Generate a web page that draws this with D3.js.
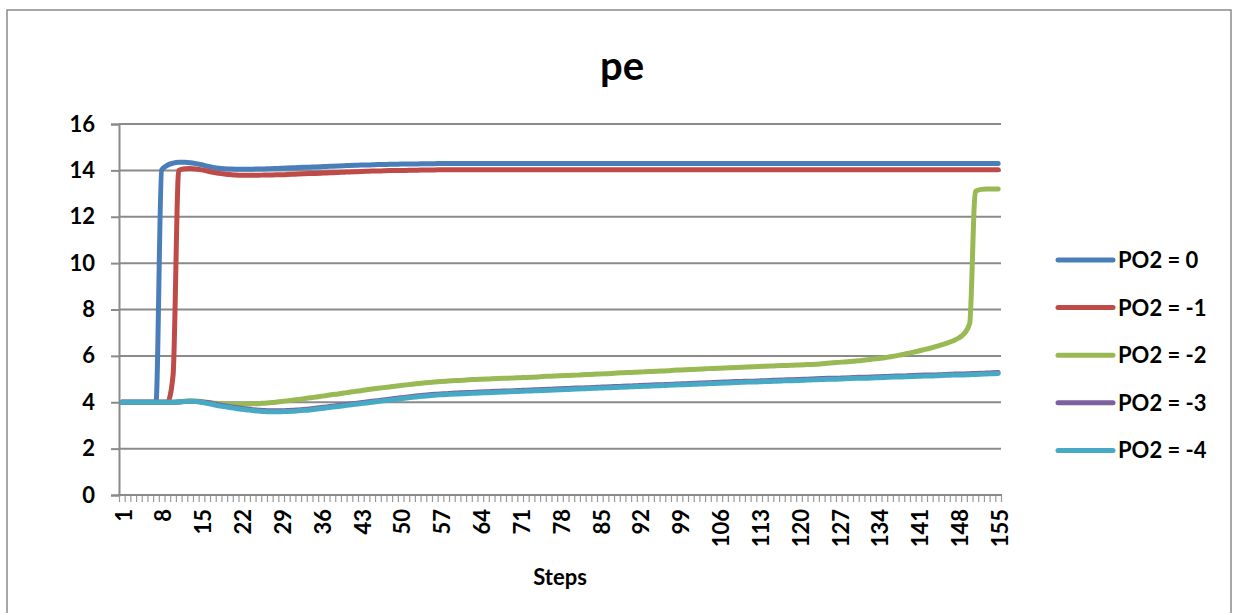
<!DOCTYPE html>
<html>
<head>
<meta charset="utf-8">
<script src="https://cdn.jsdelivr.net/npm/d3@7"></script>
<style>
  html, body { margin: 0; padding: 0; background: #ffffff; }
  svg { display: block; font-family: Lato, "Open Sans", "DejaVu Sans", sans-serif; font-weight: 700; }
</style>
</head>
<body>
<svg id="chart" width="1234" height="613"></svg>
<script>
// ---- data -------------------------------------------------------------
const steps = d3.range(1, 156);                 // categories 1..155
const stepLabels = [1, 8, 15, 22, 29, 36, 43, 50, 57, 64, 71, 78, 85, 92, 99,
                    106, 113, 120, 127, 134, 141, 148, 155];
const yTicks = [0, 2, 4, 6, 8, 10, 12, 14, 16];
const seriesNames = ["PO2 = 0", "PO2 = -1", "PO2 = -2", "PO2 = -3", "PO2 = -4"];
const seriesColors = ["#4a7ebb", "#be4b48", "#98b954", "#7d60a0", "#46aac5"];

const pePO2_0 = [
  4.00,4.00,4.00,4.00,4.00,4.00,4.00,14.02,14.22,14.31,
  14.35,14.35,14.33,14.29,14.24,14.18,14.13,14.09,14.07,14.06,
  14.05,14.05,14.05,14.05,14.06,14.06,14.07,14.08,14.09,14.10,
  14.11,14.12,14.13,14.14,14.15,14.16,14.17,14.18,14.19,14.20,
  14.21,14.22,14.23,14.23,14.24,14.25,14.25,14.26,14.26,14.27,
  14.27,14.28,14.28,14.29,14.29,14.29,14.30,14.30,14.30,14.30,
  14.30,14.30,14.30,14.30,14.30,14.30,14.30,14.30,14.30,14.30,
  14.30,14.30,14.30,14.30,14.30,14.30,14.30,14.30,14.30,14.30,
  14.30,14.30,14.30,14.30,14.30,14.30,14.30,14.30,14.30,14.30,
  14.30,14.30,14.30,14.30,14.30,14.30,14.30,14.30,14.30,14.30,
  14.30,14.30,14.30,14.30,14.30,14.30,14.30,14.30,14.30,14.30,
  14.30,14.30,14.30,14.30,14.30,14.30,14.30,14.30,14.30,14.30,
  14.30,14.30,14.30,14.30,14.30,14.30,14.30,14.30,14.30,14.30,
  14.30,14.30,14.30,14.30,14.30,14.30,14.30,14.30,14.30,14.30,
  14.30,14.30,14.30,14.30,14.30,14.30,14.30,14.30,14.30,14.30,
  14.30,14.30,14.30,14.30,14.30
];

const pePO2_m1 = [
  4.00,4.00,4.00,4.00,4.00,4.00,4.00,4.00,4.00,5.15,
  14.00,14.07,14.08,14.06,14.02,13.97,13.92,13.87,13.84,13.82,
  13.80,13.79,13.79,13.79,13.79,13.80,13.80,13.81,13.81,13.82,
  13.83,13.84,13.85,13.86,13.87,13.88,13.89,13.90,13.91,13.92,
  13.93,13.94,13.95,13.96,13.97,13.97,13.98,13.99,13.99,14.00,
  14.00,14.01,14.01,14.02,14.02,14.02,14.03,14.03,14.03,14.03,
  14.03,14.03,14.03,14.03,14.03,14.03,14.03,14.03,14.03,14.03,
  14.03,14.03,14.03,14.03,14.03,14.03,14.03,14.03,14.03,14.03,
  14.03,14.03,14.03,14.03,14.03,14.03,14.03,14.03,14.03,14.03,
  14.03,14.03,14.03,14.03,14.03,14.03,14.03,14.03,14.03,14.03,
  14.03,14.03,14.03,14.03,14.03,14.03,14.03,14.03,14.03,14.03,
  14.03,14.03,14.03,14.03,14.03,14.03,14.03,14.03,14.03,14.03,
  14.03,14.03,14.03,14.03,14.03,14.03,14.03,14.03,14.03,14.03,
  14.03,14.03,14.03,14.03,14.03,14.03,14.03,14.03,14.03,14.03,
  14.03,14.03,14.03,14.03,14.03,14.03,14.03,14.03,14.03,14.03,
  14.03,14.03,14.03,14.03,14.03
];

const pePO2_m2 = [
  4.00,4.00,4.00,4.00,4.00,4.00,4.00,4.00,4.00,4.00,
  4.02,4.04,4.05,4.05,4.03,4.00,3.97,3.95,3.93,3.92,
  3.91,3.91,3.92,3.93,3.94,3.96,3.98,4.00,4.03,4.06,
  4.09,4.12,4.15,4.19,4.22,4.26,4.29,4.33,4.36,4.40,
  4.43,4.47,4.50,4.54,4.57,4.60,4.63,4.66,4.69,4.72,
  4.75,4.78,4.81,4.83,4.85,4.87,4.89,4.91,4.93,4.94,
  4.95,4.97,4.98,4.99,5.00,5.01,5.02,5.03,5.04,5.05,
  5.06,5.07,5.08,5.09,5.11,5.12,5.13,5.14,5.15,5.16,
  5.17,5.19,5.20,5.21,5.22,5.23,5.24,5.26,5.27,5.28,
  5.29,5.30,5.32,5.33,5.34,5.35,5.36,5.38,5.39,5.40,
  5.41,5.42,5.43,5.45,5.46,5.47,5.48,5.49,5.50,5.51,
  5.52,5.53,5.54,5.55,5.56,5.57,5.58,5.59,5.60,5.61,
  5.62,5.63,5.64,5.66,5.68,5.70,5.72,5.74,5.76,5.78,
  5.80,5.83,5.86,5.89,5.92,5.96,6.00,6.05,6.10,6.15,
  6.21,6.27,6.33,6.40,6.47,6.55,6.64,6.76,6.95,7.40,
  13.10,13.18,13.20,13.20,13.20
];

const pePO2_m3 = [
  4.00,4.00,4.00,4.00,4.00,4.00,4.00,4.00,4.00,4.00,
  4.01,4.03,4.04,4.03,4.01,3.99,3.94,3.89,3.85,3.81,
  3.77,3.74,3.71,3.68,3.66,3.64,3.63,3.63,3.63,3.64,
  3.65,3.67,3.69,3.71,3.74,3.77,3.80,3.83,3.86,3.89,
  3.92,3.95,3.98,4.01,4.04,4.07,4.10,4.13,4.16,4.19,
  4.22,4.25,4.28,4.30,4.32,4.34,4.36,4.37,4.39,4.40,
  4.41,4.42,4.43,4.44,4.45,4.46,4.47,4.48,4.49,4.50,
  4.51,4.52,4.53,4.54,4.55,4.56,4.57,4.58,4.59,4.60,
  4.61,4.62,4.63,4.64,4.65,4.66,4.67,4.68,4.69,4.70,
  4.71,4.72,4.73,4.74,4.75,4.76,4.77,4.78,4.79,4.80,
  4.81,4.82,4.83,4.84,4.85,4.86,4.87,4.88,4.89,4.90,
  4.91,4.91,4.92,4.93,4.94,4.95,4.96,4.97,4.97,4.98,
  4.99,5.00,5.01,5.02,5.03,5.03,5.04,5.05,5.06,5.07,
  5.08,5.08,5.09,5.10,5.11,5.12,5.13,5.13,5.14,5.15,
  5.16,5.17,5.17,5.18,5.19,5.20,5.21,5.22,5.22,5.23,
  5.24,5.25,5.26,5.27,5.28
];

const pePO2_m4 = [
  4.00,4.00,4.00,4.00,4.00,4.00,4.00,4.00,4.00,4.00,
  4.01,4.03,4.04,4.03,4.00,3.95,3.90,3.85,3.81,3.77,
  3.73,3.70,3.67,3.64,3.62,3.60,3.59,3.59,3.59,3.60,
  3.61,3.63,3.65,3.67,3.70,3.73,3.76,3.79,3.82,3.85,
  3.88,3.91,3.94,3.97,4.00,4.03,4.06,4.09,4.12,4.15,
  4.18,4.21,4.24,4.26,4.28,4.30,4.32,4.33,4.35,4.36,
  4.37,4.38,4.39,4.40,4.41,4.42,4.43,4.44,4.45,4.46,
  4.47,4.48,4.49,4.50,4.51,4.52,4.53,4.54,4.55,4.56,
  4.57,4.58,4.59,4.60,4.61,4.62,4.63,4.64,4.65,4.66,
  4.67,4.68,4.69,4.70,4.71,4.72,4.73,4.74,4.75,4.76,
  4.77,4.78,4.79,4.80,4.81,4.82,4.83,4.84,4.85,4.86,
  4.87,4.87,4.88,4.89,4.90,4.91,4.92,4.93,4.93,4.94,
  4.95,4.96,4.97,4.98,4.99,4.99,5.00,5.01,5.02,5.03,
  5.04,5.04,5.05,5.06,5.07,5.08,5.09,5.09,5.10,5.11,
  5.12,5.13,5.13,5.14,5.15,5.16,5.17,5.18,5.18,5.19,
  5.20,5.21,5.22,5.23,5.24
];

const seriesValues = [pePO2_0, pePO2_m1, pePO2_m2, pePO2_m3, pePO2_m4];

// ---- layout -----------------------------------------------------------
const plot = { left: 119, right: 1001, top: 124, bottom: 495 };
const gridColor = "#8a8a8a";

const svg = d3.select("#chart");

// chart frame
svg.append("rect")
  .attr("x", 7).attr("y", 10)
  .attr("width", 1224).attr("height", 620)
  .attr("fill", "#ffffff")
  .attr("stroke", gridColor).attr("stroke-width", 1.5);

// scales: each step occupies one slot, labels sit at slot centres
const x = d3.scaleLinear().domain([0.5, steps.length + 0.5]).range([plot.left, plot.right]);
const y = d3.scaleLinear().domain([0, 16]).range([plot.bottom, plot.top]);

// horizontal gridlines
svg.append("g")
  .selectAll("line")
  .data(yTicks.filter(v => v > 0))
  .join("line")
  .attr("x1", plot.left).attr("x2", plot.right)
  .attr("y1", d => y(d)).attr("y2", d => y(d))
  .attr("stroke", gridColor).attr("stroke-width", 2);

// y axis
const yAxis = svg.append("g")
  .attr("transform", `translate(${plot.left},0)`)
  .call(d3.axisLeft(y).tickValues(yTicks).tickSize(8).tickPadding(16).tickFormat(d3.format("d")));
yAxis.select(".domain").attr("stroke", gridColor).attr("stroke-width", 2);
yAxis.selectAll(".tick line").attr("stroke", gridColor).attr("stroke-width", 2);
yAxis.selectAll(".tick text")
  .attr("fill", "#000").attr("font-size", 22).attr("font-weight", 700)
  .attr("font-family", "Lato, 'Open Sans', sans-serif");

// x axis: a minor tick at every slot boundary
const boundaries = d3.range(0.5, steps.length + 1, 1);
const xTicks = svg.append("g")
  .attr("transform", `translate(0,${plot.bottom})`)
  .call(d3.axisBottom(x).tickValues(boundaries).tickSize(7).tickFormat(""));
xTicks.select(".domain").remove();
xTicks.selectAll(".tick line").attr("stroke", "#9a9a9a").attr("stroke-width", 1.2);

svg.append("line")
  .attr("x1", plot.left - 1).attr("x2", plot.right + 1)
  .attr("y1", plot.bottom).attr("y2", plot.bottom)
  .attr("stroke", gridColor).attr("stroke-width", 2);

// x tick labels, rotated
svg.append("g")
  .selectAll("text")
  .data(stepLabels)
  .join("text")
  .attr("transform", d => `translate(${x(d)},${plot.bottom + 14}) rotate(-90)`)
  .attr("text-anchor", "end")
  .attr("dy", "0.44em")
  .attr("font-size", 22)
  .attr("fill", "#000")
  .text(d => d);

// series lines
const line = d3.line()
  .x((d, i) => x(steps[i]))
  .y(d => y(d))
  .curve(d3.curveMonotoneX);

svg.append("g")
  .selectAll("path")
  .data(seriesValues)
  .join("path")
  .attr("d", d => line(d))
  .attr("fill", "none")
  .attr("stroke", (d, i) => seriesColors[i])
  .attr("stroke-width", 5)
  .attr("stroke-linejoin", "round")
  .attr("stroke-linecap", "round");

// title
svg.append("text")
  .attr("x", 622).attr("y", 80)
  .attr("text-anchor", "middle")
  .attr("font-size", 40)
  .attr("fill", "#000")
  .text("pe");

// axis title
svg.append("text")
  .attr("x", 560).attr("y", 585)
  .attr("text-anchor", "middle")
  .attr("font-size", 22)
  .attr("fill", "#000")
  .text("Steps");

// legend
const legend = svg.append("g")
  .selectAll("g")
  .data(seriesNames)
  .join("g")
  .attr("transform", (d, i) => `translate(1058,${260 + i * 47.6})`);
legend.append("line")
  .attr("x1", 0).attr("x2", 55)
  .attr("stroke", (d, i) => seriesColors[i])
  .attr("stroke-width", 5)
  .attr("stroke-linecap", "round");
legend.append("text")
  .attr("x", 60).attr("dy", "0.36em")
  .attr("font-size", 22)
  .attr("fill", "#000")
  .text(d => d);
</script>
</body>
</html>
